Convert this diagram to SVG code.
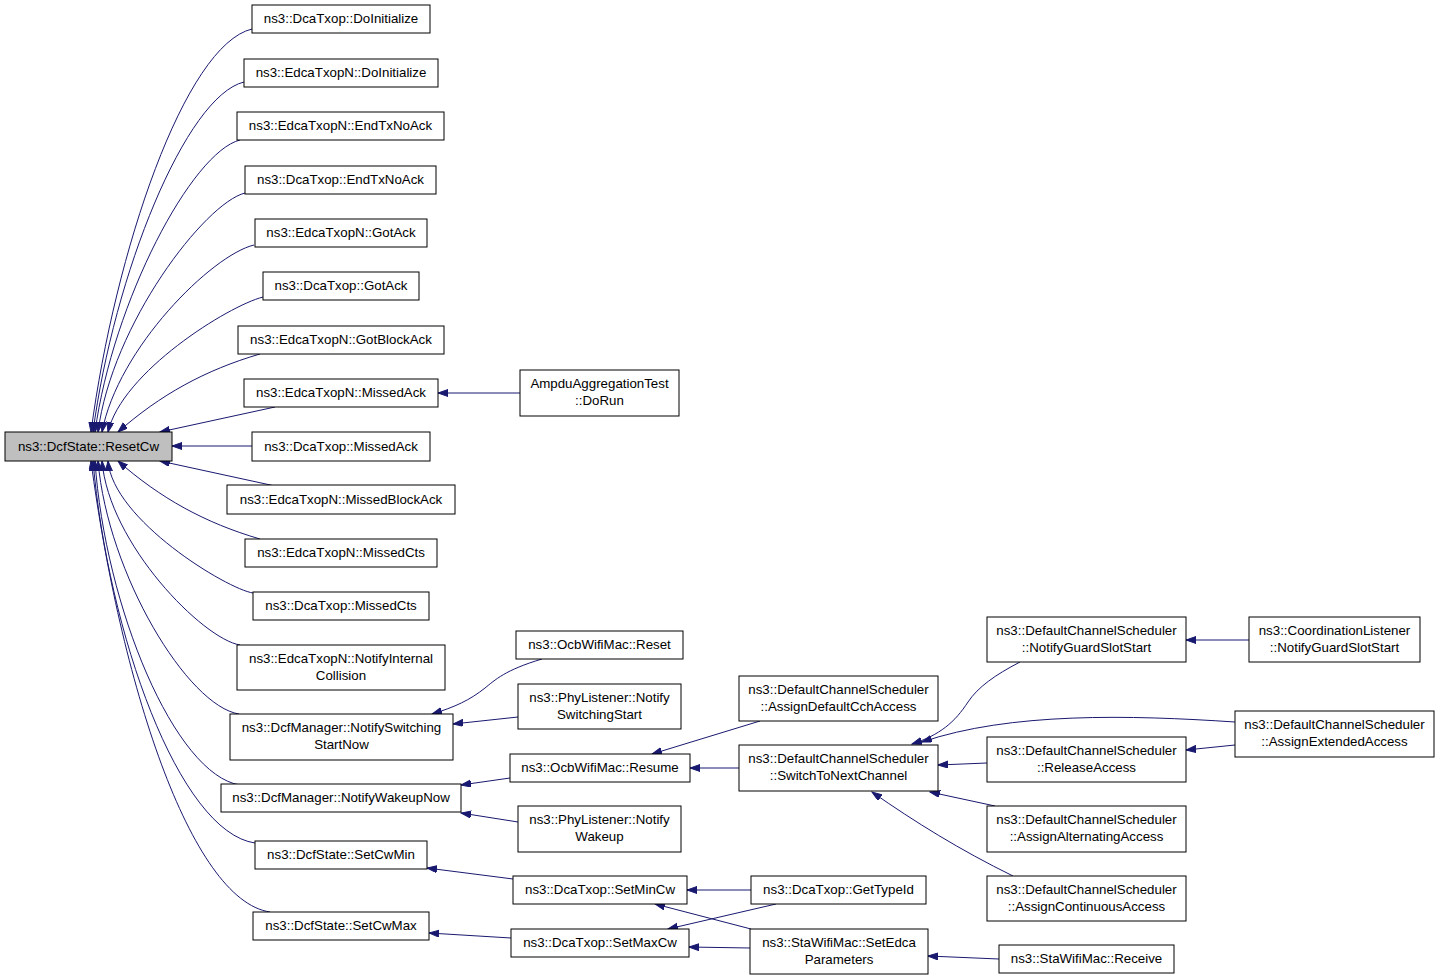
<svg xmlns="http://www.w3.org/2000/svg" width="1440" height="980" viewBox="0 0 1440 980">
<style>
.n rect{fill:#ffffff;stroke:#000000;stroke-width:1}
.root rect{fill:#bfbfbf}
text{font-family:"Liberation Sans",Arial,Helvetica,sans-serif;font-size:13.3px;fill:#000000;text-anchor:middle}
#edges path{fill:none;stroke:#191970;stroke-width:1;marker-end:url(#ah)}
</style>
<defs>
<marker id="ah" markerUnits="userSpaceOnUse" markerWidth="11" markerHeight="8" refX="10" refY="3.5" orient="auto">
<path d="M0,0 L10,3.5 L0,7 z" fill="#191970" stroke="#191970" stroke-width="1"/>
</marker>
</defs>
<rect width="1440" height="980" fill="#ffffff"/>
<g id="edges">
<path d="M252,29 C185,45 115,251 91,432"/>
<path d="M244,82 C186,96 114,274 93,432"/>
<path d="M240,140 C192,152 113,301 95,432"/>
<path d="M245,193 C205,203 112,324 98,432"/>
<path d="M254,245 C212,255 118,348 102,432"/>
<path d="M263,297 C228,306 122,372 108,432"/>
<path d="M260,354 C205,370 160,395 118,432"/>
<path d="M275,407 L160,432"/>
<path d="M252,446 L172,446"/>
<path d="M275,486 L160,461"/>
<path d="M260,539 C205,523 160,498 118,461"/>
<path d="M253,593 C227,589 113,520 108,461"/>
<path d="M240,645 C203,639 109,544 102,461"/>
<path d="M239,714 C188,706 108,575 98,461"/>
<path d="M240,785 C175,775 105,607 95,461"/>
<path d="M255,843 C179,832 108,633 93,461"/>
<path d="M270,912 C190,900 120,680 91,461"/>
<path d="M520,393 L438,393"/>
<path d="M542,659 C505,670 495,680 485,688 C470,700 455,707 432,714"/>
<path d="M518,717 L453,724"/>
<path d="M510,778 L461,785"/>
<path d="M518,822 L461,813"/>
<path d="M513,879 L427,868"/>
<path d="M511,938 L429,933"/>
<path d="M760,721 L652,754"/>
<path d="M739,768 L690,768"/>
<path d="M751,890 L687,890"/>
<path d="M776,904 L668,929"/>
<path d="M751,929 L655,904"/>
<path d="M750,948 L689,947"/>
<path d="M999,959 L928,956"/>
<path d="M1020,662 C995,675 978,687 968,702 C955,722 940,735 912,744"/>
<path d="M1235,722 C1130,715 1010,712 922,742"/>
<path d="M1249,640 L1186,640"/>
<path d="M1235,745 L1186,750"/>
<path d="M987,763 L938,765"/>
<path d="M995,806 L930,792"/>
<path d="M1013,876 C960,850 915,822 872,792"/>
</g>
<g id="n1" class="n root"><rect x="5" y="432" width="167" height="29"/><text x="88.5" y="451">ns3::DcfState::ResetCw</text></g>
<g id="n2" class="n"><rect x="252" y="5" width="178" height="28"/><text x="341" y="23">ns3::DcaTxop::DoInitialize</text></g>
<g id="n3" class="n"><rect x="244" y="59" width="194" height="28"/><text x="341" y="77">ns3::EdcaTxopN::DoInitialize</text></g>
<g id="n4" class="n"><rect x="237" y="112" width="207" height="28"/><text x="340.5" y="130">ns3::EdcaTxopN::EndTxNoAck</text></g>
<g id="n5" class="n"><rect x="245" y="166" width="191" height="28"/><text x="340.5" y="184">ns3::DcaTxop::EndTxNoAck</text></g>
<g id="n6" class="n"><rect x="255" y="219" width="172" height="28"/><text x="341" y="237">ns3::EdcaTxopN::GotAck</text></g>
<g id="n7" class="n"><rect x="263" y="272" width="156" height="28"/><text x="341" y="290">ns3::DcaTxop::GotAck</text></g>
<g id="n8" class="n"><rect x="238" y="326" width="206" height="28"/><text x="341" y="344">ns3::EdcaTxopN::GotBlockAck</text></g>
<g id="n9" class="n"><rect x="244" y="379" width="194" height="28"/><text x="341" y="397">ns3::EdcaTxopN::MissedAck</text></g>
<g id="n10" class="n"><rect x="252" y="432" width="178" height="29"/><text x="341" y="451">ns3::DcaTxop::MissedAck</text></g>
<g id="n11" class="n"><rect x="227" y="485" width="228" height="29"/><text x="341" y="504">ns3::EdcaTxopN::MissedBlockAck</text></g>
<g id="n12" class="n"><rect x="245" y="539" width="192" height="28"/><text x="341" y="557">ns3::EdcaTxopN::MissedCts</text></g>
<g id="n13" class="n"><rect x="253" y="592" width="176" height="28"/><text x="341" y="610">ns3::DcaTxop::MissedCts</text></g>
<g id="n14" class="n"><rect x="237" y="645" width="208" height="45"/><text x="341" y="663">ns3::EdcaTxopN::NotifyInternal</text><text x="341" y="680">Collision</text></g>
<g id="n15" class="n"><rect x="230" y="714" width="223" height="46"/><text x="341.5" y="732">ns3::DcfManager::NotifySwitching</text><text x="341.5" y="749">StartNow</text></g>
<g id="n16" class="n"><rect x="221" y="784" width="240" height="28"/><text x="341" y="802">ns3::DcfManager::NotifyWakeupNow</text></g>
<g id="n17" class="n"><rect x="255" y="841" width="172" height="28"/><text x="341" y="859">ns3::DcfState::SetCwMin</text></g>
<g id="n18" class="n"><rect x="253" y="912" width="176" height="28"/><text x="341" y="930">ns3::DcfState::SetCwMax</text></g>
<g id="n19" class="n"><rect x="520" y="370" width="159" height="46"/><text x="599.5" y="388">AmpduAggregationTest</text><text x="599.5" y="405">::DoRun</text></g>
<g id="n20" class="n"><rect x="516" y="631" width="167" height="28"/><text x="599.5" y="649">ns3::OcbWifiMac::Reset</text></g>
<g id="n21" class="n"><rect x="518" y="684" width="163" height="45"/><text x="599.5" y="702">ns3::PhyListener::Notify</text><text x="599.5" y="719">SwitchingStart</text></g>
<g id="n22" class="n"><rect x="510" y="754" width="180" height="28"/><text x="600" y="772">ns3::OcbWifiMac::Resume</text></g>
<g id="n23" class="n"><rect x="518" y="806" width="163" height="46"/><text x="599.5" y="824">ns3::PhyListener::Notify</text><text x="599.5" y="841">Wakeup</text></g>
<g id="n24" class="n"><rect x="513" y="876" width="174" height="28"/><text x="600" y="894">ns3::DcaTxop::SetMinCw</text></g>
<g id="n25" class="n"><rect x="511" y="929" width="178" height="28"/><text x="600" y="947">ns3::DcaTxop::SetMaxCw</text></g>
<g id="n26" class="n"><rect x="739" y="676" width="199" height="45"/><text x="838.5" y="694">ns3::DefaultChannelScheduler</text><text x="838.5" y="711">::AssignDefaultCchAccess</text></g>
<g id="n27" class="n"><rect x="739" y="745" width="199" height="46"/><text x="838.5" y="763">ns3::DefaultChannelScheduler</text><text x="838.5" y="780">::SwitchToNextChannel</text></g>
<g id="n28" class="n"><rect x="751" y="876" width="175" height="28"/><text x="838.5" y="894">ns3::DcaTxop::GetTypeId</text></g>
<g id="n29" class="n"><rect x="750" y="929" width="178" height="45"/><text x="839" y="947">ns3::StaWifiMac::SetEdca</text><text x="839" y="964">Parameters</text></g>
<g id="n30" class="n"><rect x="987" y="617" width="199" height="45"/><text x="1086.5" y="635">ns3::DefaultChannelScheduler</text><text x="1086.5" y="652">::NotifyGuardSlotStart</text></g>
<g id="n31" class="n"><rect x="1249" y="617" width="171" height="45"/><text x="1334.5" y="635">ns3::CoordinationListener</text><text x="1334.5" y="652">::NotifyGuardSlotStart</text></g>
<g id="n32" class="n"><rect x="1235" y="711" width="199" height="46"/><text x="1334.5" y="729">ns3::DefaultChannelScheduler</text><text x="1334.5" y="746">::AssignExtendedAccess</text></g>
<g id="n33" class="n"><rect x="987" y="737" width="199" height="45"/><text x="1086.5" y="755">ns3::DefaultChannelScheduler</text><text x="1086.5" y="772">::ReleaseAccess</text></g>
<g id="n34" class="n"><rect x="987" y="806" width="199" height="46"/><text x="1086.5" y="824">ns3::DefaultChannelScheduler</text><text x="1086.5" y="841">::AssignAlternatingAccess</text></g>
<g id="n35" class="n"><rect x="987" y="876" width="199" height="45"/><text x="1086.5" y="894">ns3::DefaultChannelScheduler</text><text x="1086.5" y="911">::AssignContinuousAccess</text></g>
<g id="n36" class="n"><rect x="999" y="945" width="175" height="28"/><text x="1086.5" y="963">ns3::StaWifiMac::Receive</text></g>
</svg>
